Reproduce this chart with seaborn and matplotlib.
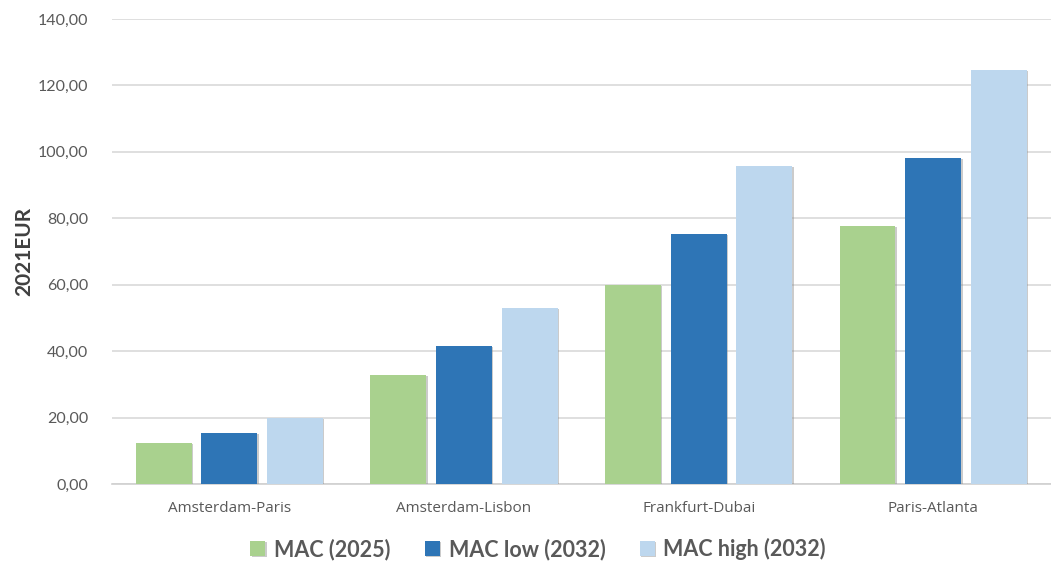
import matplotlib
matplotlib.use("Agg")
import matplotlib.pyplot as plt
import matplotlib.patheffects as pe
from matplotlib.ticker import FuncFormatter, MultipleLocator
import seaborn as sns
import pandas as pd

routes = ["Amsterdam-Paris", "Amsterdam-Lisbon", "Frankfurt-Dubai", "Paris-Atlanta"]
series_names = ["MAC (2025)", "MAC low (2032)", "MAC high (2032)"]
mac_2025 = [12.3, 32.8, 59.9, 77.7]
mac_low_2032 = [15.4, 41.6, 75.3, 98.2]
mac_high_2032 = [19.9, 53.0, 95.8, 124.7]
colors = ["#a9d18e", "#2e75b6", "#bdd7ee"]

df = pd.DataFrame({
    "route": routes * 3,
    "series": [s for s in series_names for _ in routes],
    "value": mac_2025 + mac_low_2032 + mac_high_2032,
})

sns.set_theme(style="white")
plt.rcParams["font.family"] = ["Lato", "DejaVu Sans"]

fig = plt.figure(figsize=(10.51, 5.65), dpi=100)
ax = fig.add_axes([0.1066, 0.1434, 0.893, 0.8230])

sns.barplot(data=df, x="route", y="value", hue="series", order=routes,
            hue_order=series_names, palette=colors, width=0.84, gap=0.15,
            saturation=1, linewidth=0, edgecolor="none", ax=ax, legend=True)

# soft drop shadow behind each bar
shadow = [pe.SimplePatchShadow(offset=(1.0, -0.8), shadow_rgbFace="#8c8c8c", alpha=0.45), pe.Normal()]
for p in ax.patches:
    p.set_path_effects(shadow)
    p.set_zorder(3)

ax.set_ylim(0, 140)
ax.yaxis.set_major_locator(MultipleLocator(20))
ax.yaxis.set_major_formatter(FuncFormatter(lambda v, _: f"{v:.2f}".replace(".", ",")))
ax.grid(axis="y", color="#d9d9d9", linewidth=1.2, zorder=0)
ax.set_axisbelow(True)
for side in ["top", "right", "left"]:
    ax.spines[side].set_visible(False)
ax.spines["bottom"].set_color("#d0d0d0")
ax.spines["bottom"].set_linewidth(1.2)
ax.tick_params(axis="both", length=0, colors="#595959")
ax.tick_params(axis="y", labelsize=11.5, pad=17)
ax.tick_params(axis="x", labelsize=11, pad=12)
for lbl in ax.get_xticklabels():
    lbl.set_fontfamily(["Open Sans", "DejaVu Sans"])
ax.set_xlabel("")
ax.set_ylabel("2021EUR", fontsize=15, fontweight="bold", color="#404040", labelpad=3)

handles, labels = ax.get_legend_handles_labels()
ax.legend_.remove()
leg = fig.legend(handles, labels, loc="center", bbox_to_anchor=(0.512, 0.028), ncol=3,
                 frameon=False, handlelength=0.7, handleheight=0.7,
                 handletextpad=0.4, columnspacing=1.6,
                 prop={"weight": "bold", "size": 15.5})
for t in leg.get_texts():
    t.set_color("#595959")

fig.savefig("out.png", dpi=100)
